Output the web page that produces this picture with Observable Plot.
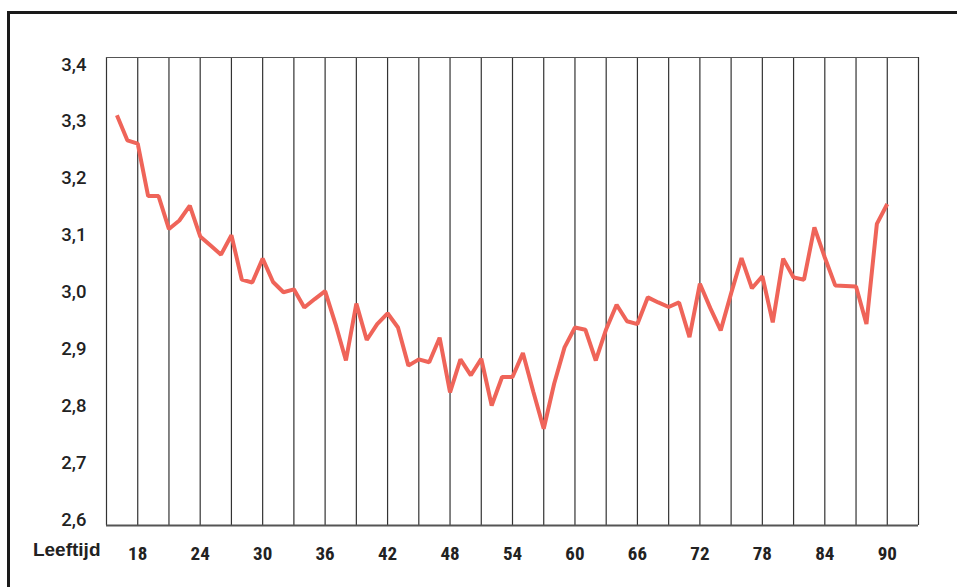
<!DOCTYPE html>
<html>
<head>
<meta charset="utf-8">
<script src="https://cdn.jsdelivr.net/npm/d3@7"></script>
<script src="https://cdn.jsdelivr.net/npm/@observablehq/plot@0.6"></script>
<style>
  html, body { margin: 0; padding: 0; background: #fff; }
  #wrap { position: relative; width: 957px; height: 587px; overflow: hidden; }
  #border { position: absolute; left: 7px; top: 11px; width: 960px; height: 600px;
            border-top: 3px solid #1a1a1a; border-left: 3px solid #1a1a1a; box-sizing: border-box; }
  #chart { position: absolute; left: 0; top: 0; }
</style>
</head>
<body>
<div id="wrap"><div id="border"></div><div id="chart"></div></div>
<script>
const ages = d3.range(16, 91);
const values = [
  3.311, 3.267, 3.261, 3.169, 3.169, 3.111, 3.126, 3.152, 3.098, 3.082,
  3.066, 3.100, 3.022, 3.017, 3.059, 3.018, 3.000, 3.005, 2.973, 2.988,
  3.002, 2.944, 2.880, 2.980, 2.916, 2.944, 2.963, 2.938, 2.871, 2.882,
  2.877, 2.920, 2.824, 2.882, 2.854, 2.883, 2.801, 2.851, 2.851, 2.893,
  2.825, 2.760, 2.839, 2.903, 2.938, 2.934, 2.880, 2.935, 2.978, 2.949,
  2.944, 2.991, 2.982, 2.974, 2.982, 2.921, 3.015, 2.972, 2.933, 2.998,
  3.060, 3.007, 3.028, 2.947, 3.059, 3.026, 3.022, 3.114, 3.061, 3.012,
  3.011, 3.010, 2.944, 3.120, 3.155
];
const xTicks = [18, 24, 30, 36, 42, 48, 54, 60, 66, 72, 78, 84, 90];
const yTicks = [2.6, 2.7, 2.8, 2.9, 3.0, 3.1, 3.2, 3.3, 3.4];
const gridAges = [15, 18, 21, 24, 27, 30, 33, 36, 39, 42, 45, 48, 51, 54, 57, 60, 63, 66, 69, 72, 75, 78, 81, 84, 87, 90, 93];
const xLabel = "Leeftijd";

const data = ages.map((a, i) => ({age: a, value: values[i]}));
const yDomain = [2.590, 3.4125];

const chart = Plot.plot({
  width: 957,
  height: 587,
  marginLeft: 106,
  marginRight: 39,
  marginTop: 57,
  marginBottom: 62,
  x: {domain: [15, 93]},
  y: {domain: yDomain},
  style: {background: "transparent", color: "#222"},
  marks: [
    Plot.ruleX(gridAges, {stroke: "#333", strokeWidth: 1.2, strokeOpacity: 1}),
    Plot.ruleY([yDomain[1]], {stroke: "#555", strokeWidth: 1.2}),
    Plot.ruleY([yDomain[0]], {stroke: "#555", strokeWidth: 2}),
    Plot.line(data, {x: "age", y: "value", stroke: "#ef6459", strokeWidth: 4, strokeLinejoin: "miter", strokeLinecap: "butt"}),
    Plot.axisY({ticks: yTicks, tickSize: 0, tickPadding: 20, tickFormat: d => d3.format(".1f")(d).replace(".", ","),
      fontSize: 18.5, fontFamily: "Roboto, 'Liberation Sans', sans-serif", fontWeight: 500, label: null}),
    Plot.axisX({ticks: xTicks, tickSize: 0, tickPadding: 21, fontSize: 19,
      fontFamily: "'Liberation Sans Narrow', 'Roboto Condensed', 'Liberation Sans', sans-serif", fontWeight: "bold", label: null}),
    Plot.text([xLabel], {frameAnchor: "bottom-left", textAnchor: "end", dx: -6, dy: 30, fontSize: 19,
      fontFamily: "'Liberation Sans Narrow', 'Liberation Sans', sans-serif", fontWeight: "bold", fill: "#222"})
  ]
});
document.getElementById("chart").appendChild(chart);
</script>
</body>
</html>
